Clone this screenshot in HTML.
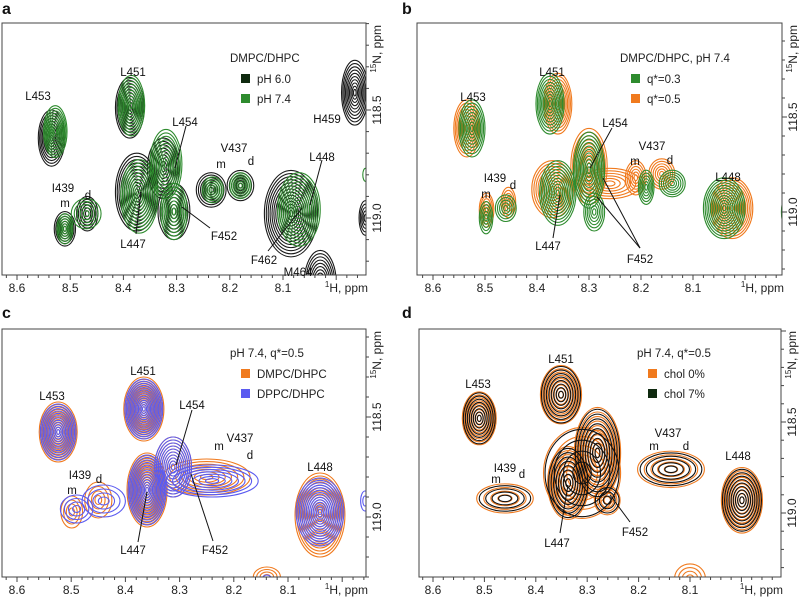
<!DOCTYPE html>
<html><head><meta charset="utf-8"><style>
html,body{margin:0;padding:0;background:#fff;}
svg{display:block;font-family:"Liberation Sans",Arial,sans-serif;}
</style></head><body>
<svg id="fig" width="799" height="597" viewBox="0 0 799 597" xmlns="http://www.w3.org/2000/svg"></svg>
<script>
// ---- data ----
const xTicks = [8.6, 8.5, 8.4, 8.3, 8.2, 8.1];
const yTicks = [118.5, 119.0];
const yTickLabels = ["118.5", "119.0"];
// peaks: [1H ppm, 15N ppm, half-width 1H, half-height 15N, contour levels, series]
const peaksA = [
 [8.535,118.63,.025,.13,10,0],[8.388,118.49,.027,.14,10,0],[7.965,118.42,.025,.15,10,0],
 [8.51,119.05,.02,.08,7,0],[8.468,118.98,.02,.08,6,0],[8.375,118.88,.04,.18,12,0],
 [8.325,118.77,.03,.14,9,0],[8.305,118.97,.03,.13,8,0],[8.235,118.87,.028,.08,7,0],
 [8.18,118.85,.025,.07,6,0],[8.085,118.98,.05,.2,14,0],[8.03,119.3,.03,.15,10,0],[7.945,119.0,.012,.08,5,0],
 [8.528,118.6,.022,.12,10,1],[8.385,118.48,.025,.14,10,1],[8.51,119.05,.015,.07,6,1],
 [8.47,118.98,.028,.07,5,1],[8.37,118.9,.035,.17,11,1],[8.32,118.75,.03,.16,10,1],
 [8.305,118.97,.025,.13,8,1],[8.232,118.87,.02,.06,6,1],[8.18,118.85,.02,.06,6,1],
 [8.07,118.96,.04,.17,12,1],[7.945,118.8,.005,.03,1,1]
];
const peaksB = [
 [8.535,118.56,.025,.15,9,1],[8.36,118.43,.027,.16,10,1],[8.497,118.99,.014,.09,6,1],
 [8.455,118.95,.014,.08,5,1],[8.37,118.88,.04,.15,10,1],[8.3,118.76,.035,.2,10,1],
 [8.26,118.85,.06,.08,6,1],[8.21,118.82,.02,.09,6,1],[8.16,118.8,.025,.08,6,1],[8.025,118.98,.04,.16,12,1],
 [8.525,118.56,.025,.15,9,0],[8.375,118.43,.027,.16,10,0],[8.498,119.03,.013,.085,5,0],
 [8.46,118.98,.02,.07,5,0],[8.36,118.9,.035,.17,11,0],[8.30,118.78,.03,.2,11,0],
 [8.29,119.0,.02,.1,6,0],[8.19,118.87,.015,.09,6,0],[8.14,118.85,.025,.07,6,0],
 [8.04,118.98,.04,.16,12,0],[7.925,119.0,.005,.06,2,0]
];
const peaksC = [
 [8.524,118.575,.035,.15,12,0],[8.366,118.46,.037,.16,14,0],[8.499,118.975,.02,.08,4,0],
 [8.45,118.915,.025,.09,4,0],[8.36,118.865,.037,.185,14,0],[8.312,118.75,.034,.15,10,0],
 [8.25,118.8,.08,.09,7,0],[8.041,118.99,.046,.21,14,0],[8.139,119.3,.025,.05,4,0],
 [8.524,118.575,.033,.14,12,1],[8.366,118.46,.035,.15,14,1],[8.49,118.96,.03,.07,4,1],
 [8.44,118.92,.04,.08,4,1],[8.36,118.865,.035,.175,14,1],[8.312,118.75,.034,.15,10,1],
 [8.24,118.82,.085,.08,7,1],[8.041,118.975,.044,.17,14,1],[8.139,119.32,.01,.03,2,1],[7.958,118.92,.008,.05,2,1]
];
const peaksD = [
 [8.51,118.48,.033,.145,9,0],[8.351,118.35,.04,.16,9,0],[8.46,118.92,.055,.08,4,0],
 [8.31,118.78,.075,.25,5,0],
 [8.337,118.835,.04,.2,9,0],[8.28,118.67,.045,.25,10,0],[8.261,118.93,.025,.08,4,0],
 [8.137,118.76,.065,.1,5,0],[7.999,118.93,.04,.18,10,0],[8.1,119.36,.03,.08,4,0],
 [8.51,118.48,.031,.14,8,1],[8.351,118.35,.038,.155,8,1],[8.46,118.92,.05,.07,4,1],
 [8.31,118.78,.072,.24,4,1],
 [8.337,118.835,.038,.19,8,1],[8.28,118.67,.043,.24,9,1],[8.261,118.93,.023,.07,3,1],
 [8.137,118.76,.06,.09,5,1],[7.999,118.93,.038,.17,9,1]
];
// ---- layout ----
const panels = [
 {id:"a",peaks:peaksA,colors:["#1a1a1a","#2e8b2e"],order:[0,1],x0:2,x1:366,y0:23,y1:275,hx0:17,hx1:283,ny0:110,ny1:218,lab:[2,14],
  legendTitle:"DMPC/DHPC",legend:["pH 6.0","pH 7.4"],lx:230,ly:62,lcol:["#0f2a0f","#2e8b2e"],
  labels:[["L453",38,96],["L451",133,72],["H459",327,119],["I439",63,188],["m",65,203],["d",88,195],["L454",185,122],["V437",234,148],["m",221,164],["d",251,161],["L448",322,157],["L447",133,244],["F452",224,236],["F462",264,260],["M464",298,272]],
  lines:[[136,234,141,192],[186,126,175,168],[210,228,182,207],[268,251,302,208],[322,160,310,205]]},
 {id:"b",peaks:peaksB,colors:["#2e8b2e","#f07a1e"],order:[1,0],x0:417,x1:782,y0:23,y1:275,hx0:433,hx1:693,ny0:117,ny1:212,lab:[402,14],
  legendTitle:"DMPC/DHPC, pH 7.4",legend:["q*=0.3","q*=0.5"],lx:620,ly:62,lcol:["#2e8b2e","#f07a1e"],
  labels:[["L453",473,97],["L451",552,72],["L454",615,123],["V437",652,146],["m",635,161],["d",670,160],["I439",495,178],["m",486,194],["d",513,185],["L448",728,177],["L447",548,246],["F452",640,259]],
  lines:[[553,238,560,195],[640,248,603,178],[640,248,597,197],[612,128,590,168]]},
 {id:"c",peaks:peaksC,colors:["#f07a1e","#5b5bf0"],order:[0,1],x0:2,x1:366,y0:329,y1:577,hx0:17,hx1:288,ny0:417,ny1:517,lab:[2,318],
  legendTitle:"pH 7.4, q*=0.5",legend:["DMPC/DHPC","DPPC/DHPC"],lx:230,ly:357,lcol:["#f07a1e","#5b5bf0"],
  labels:[["L453",52,396],["L451",143,371],["L454",192,405],["V437",240,438],["m",219,446],["d",250,455],["I439",80,475],["d",99,479],["m",72,490],["L448",320,467],["L447",133,550],["F452",215,550]],
  lines:[[138,542,147,492],[213,541,191,474],[192,410,176,465]]},
 {id:"d",peaks:peaksD,colors:["#f07a1e","#111"],order:[0,1],x0:419,x1:781,y0:329,y1:577,hx0:433,hx1:690,ny0:422,ny1:513,lab:[402,318],
  legendTitle:"pH 7.4, q*=0.5",legend:["chol 0%","chol 7%"],lx:637,ly:357,lcol:["#f07a1e","#0f2a0f"],
  labels:[["L453",478,384],["L451",561,359],["V437",668,433],["m",654,446],["d",686,446],["I439",505,468],["d",522,474],["m",496,479],["L448",738,456],["L447",557,543],["F452",635,532]],
  lines:[[560,533,568,485],[630,522,610,495]]}
];
const NS="http://www.w3.org/2000/svg";
const svg=document.getElementById('fig');
function mk(tag,attrs,parent){const e=document.createElementNS(NS,tag);for(const k in attrs)e.setAttribute(k,attrs[k]);(parent||svg).appendChild(e);return e;}
panels.forEach(p=>{
  const g=mk('g',{});
  
  
  const xs=h=>p.hx0+(8.6-h)*(p.hx1-p.hx0)/0.5;
  const ys=n=>p.ny0+(n-118.5)*(p.ny1-p.ny0)/0.5;
  const kx=(p.hx1-p.hx0)/0.5, ky=(p.ny1-p.ny0)/0.5;
  const cp=mk('clipPath',{id:'clip'+p.id},g);
  mk('rect',{x:p.x0,y:p.y0,width:p.x1-p.x0,height:p.y1-p.y0},cp);
  const cg=mk('g',{'clip-path':'url(#clip'+p.id+')'},g);
  p.order.forEach(s=>{
    const sg=mk('g',{},cg);
    
    
    p.peaks.filter(k=>k[5]===s).forEach(k=>{
      const [h,n,rh,rn,L]=k;
      for(let i=1;i<=L;i++){
        const f=i/L;
        const e=mk('ellipse',{cx:xs(h),cy:ys(n),rx:rh*kx*f,ry:rn*ky*f,fill:'none',stroke:p.colors[s],'stroke-width':1.1},sg);
        
        
      }
    });
  });
  const fr=mk('rect',{x:p.x0,y:p.y0,width:p.x1-p.x0,height:p.y1-p.y0,fill:'none',stroke:'#444','stroke-width':1},g);
  
  
  for(let v=8.62;v>=7.94;v-=0.02){const x=xs(v);if(x<p.x0||x>p.x1)continue;const major=Math.abs(v*10-Math.round(v*10))<0.01;
    mk('line',{x1:x,y1:p.y1,x2:x,y2:p.y1+(major?5:3),stroke:'#444'},g);}
  xTicks.forEach(v=>{const t=mk('text',{x:xs(v),y:p.y1+17,'font-size':12,'text-anchor':'middle',fill:'#222'},g);t.textContent=v.toFixed(1);
    });
  const xt=mk('text',{x:p.x1+2,y:p.y1+17,'font-size':12,'text-anchor':'end',fill:'#222'},g);
  xt.innerHTML='<tspan font-size="8" dy="-5">1</tspan><tspan dy="5">H, ppm</tspan>';
  
  for(let v=118.0;v<=119.5;v+=0.1){const y=ys(v);if(y<p.y0||y>p.y1)continue;const major=Math.abs(v*2-Math.round(v*2))<0.01;
    mk('line',{x1:p.x1,y1:y,x2:p.x1+(major?5:3),y2:y,stroke:'#444'},g);}
  yTicks.forEach((v,i)=>{const y=ys(v);const t=mk('text',{x:0,y:0,'font-size':12,'text-anchor':'middle',fill:'#222',transform:`translate(${p.x1+15},${y}) rotate(-90)`},g);t.textContent=yTickLabels[i];
    });
  const yt=mk('text',{x:0,y:0,'font-size':12,'text-anchor':'end',fill:'#222',transform:`translate(${p.x1+15},${p.y0+2}) rotate(-90)`},g);
  yt.innerHTML='<tspan font-size="8" dy="-5">15</tspan><tspan dy="5">N, ppm</tspan>';
  
  const pl=mk('text',{x:p.lab[0],y:p.lab[1],'font-size':16,'font-weight':'bold',fill:'#111'},g);pl.textContent=p.id;
  
  const lg=mk('g',{},g);
  
  const lt=mk('text',{x:p.lx,y:p.ly,'font-size':11.5,fill:'#222'},lg);lt.textContent=p.legendTitle;
  p.legend.forEach((s,i)=>{
    mk('rect',{x:p.lx+11,y:p.ly+12+i*20,width:9,height:9,fill:p.lcol[i]},lg);
    const t=mk('text',{x:p.lx+27,y:p.ly+21+i*20,'font-size':11.5,fill:'#222'},lg);t.textContent=s;
    
  });
  p.lines.forEach(l=>mk('line',{x1:l[0],y1:l[1],x2:l[2],y2:l[3],stroke:'#111','stroke-width':1},g));
  p.labels.forEach(l=>{const t=mk('text',{x:l[1],y:l[2]+4,'font-size':11.5,'text-anchor':'middle',fill:'#111'},g);t.textContent=l[0];
    });
});
</script>
</body></html>
